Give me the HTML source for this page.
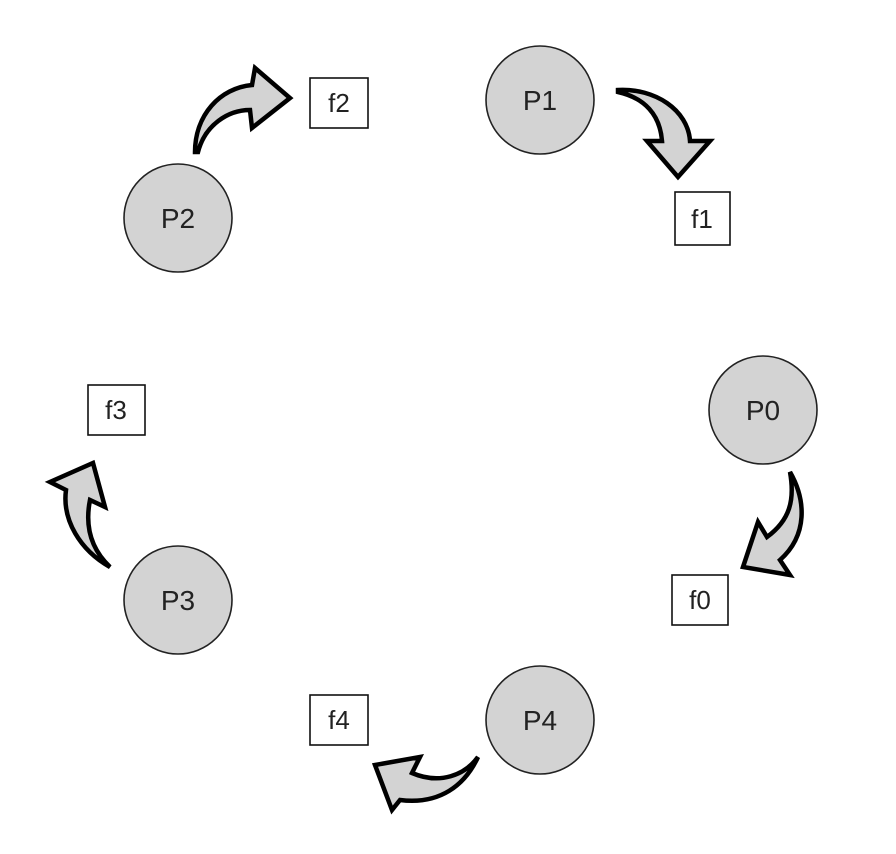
<!DOCTYPE html>
<html><head><style>
html,body{margin:0;padding:0;background:#fff;}
svg{display:block;}
text{font-family:"Liberation Sans",sans-serif;fill:#222;}
</style></head><body>
<svg width="896" height="854" viewBox="0 0 896 854" xmlns="http://www.w3.org/2000/svg">
<g fill="#d3d3d3" stroke="#222" stroke-width="1.6">
<circle cx="540" cy="100" r="54"/>
<circle cx="178" cy="218" r="54"/>
<circle cx="763" cy="410" r="54"/>
<circle cx="178" cy="600" r="54"/>
<circle cx="540" cy="720" r="54"/>
</g>
<g fill="#fff" stroke="#111" stroke-width="1.6">
<rect x="310" y="78" width="58" height="50"/>
<rect x="675" y="192" width="55" height="53"/>
<rect x="88" y="385" width="57" height="50"/>
<rect x="672" y="575" width="56" height="50"/>
<rect x="310" y="695" width="58" height="50"/>
</g>
<g text-anchor="middle" font-size="28">
<text x="540" y="110">P1</text>
<text x="178" y="228">P2</text>
<text x="763" y="420">P0</text>
<text x="178" y="610">P3</text>
<text x="540" y="730">P4</text>
</g>
<g text-anchor="middle" font-size="26">
<text x="339" y="112">f2</text>
<text x="702" y="228">f1</text>
<text x="116" y="419">f3</text>
<text x="700" y="609">f0</text>
<text x="339" y="729">f4</text>
</g>
<g fill="#d3d3d3" stroke="#000" stroke-width="4.5" stroke-linejoin="miter">
<path d="M195,152 C195,115 220,88 252,85 L255,68 L290,98 L252,128 L250,110 C228,110 205,125 198,152 Z"/>
<path d="M618,90 C655,88 688,110 690,141 L710,141 L678,177 L647,141 L662,141 C660,115 645,98 618,92 Z"/>
<path d="M790,472 C806,500 808,535 780,560 L790,575 L743,567 L758,522 L767,537 C790,520 795,500 790,472 Z"/>
<path d="M110,567 C80,550 62,520 66,490 L50,482 L93,463 L105,507 L90,500 C85,525 90,548 110,567 Z"/>
<path d="M478,757 C465,785 440,805 400,800 L392,810 L375,765 L420,757 L412,773 C440,785 465,775 478,757 Z"/>
</g>
</svg>
</body></html>
